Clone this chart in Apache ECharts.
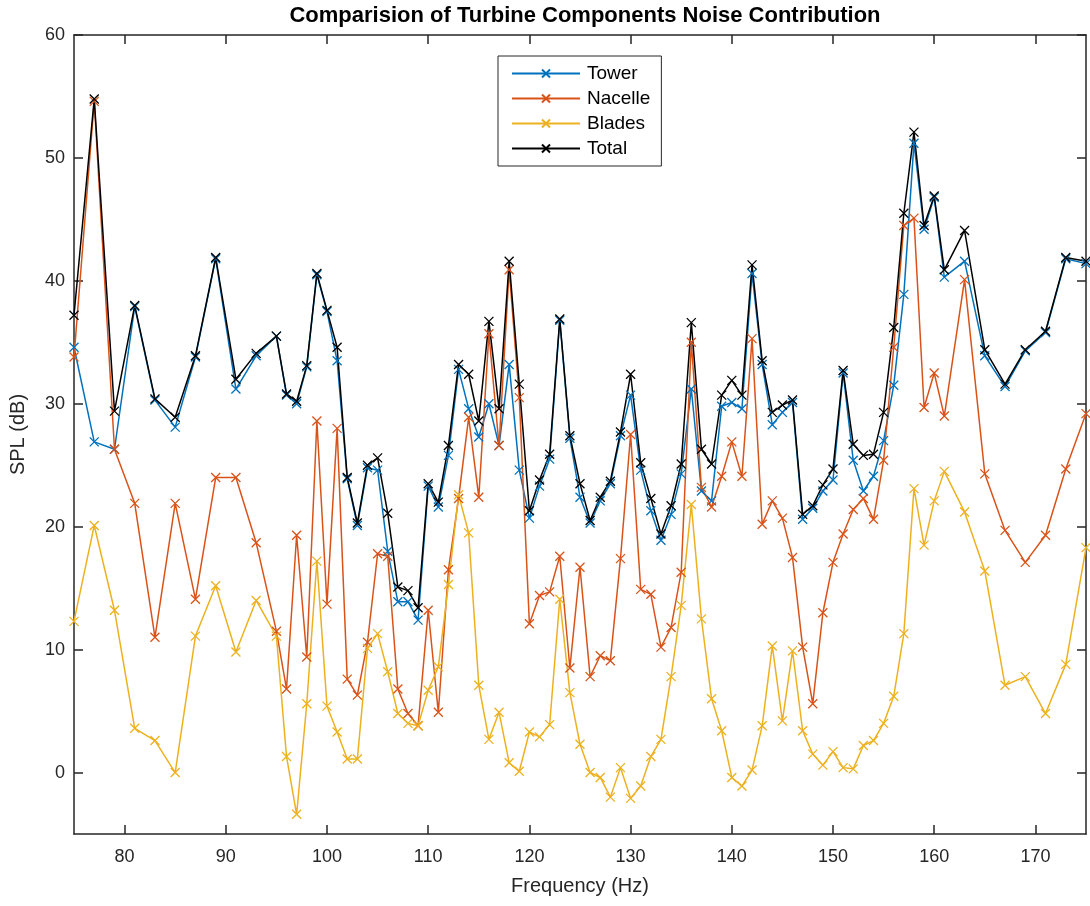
<!DOCTYPE html>
<html>
<head>
<meta charset="utf-8">
<script src="https://cdn.jsdelivr.net/npm/echarts@6/dist/echarts.min.js"></script>
<style>
  html, body { margin: 0; padding: 0; background: #fff; }
  #chart { width: 1090px; height: 906px; }
</style>
</head>
<body>
<div id="chart"></div>
<script>
// frequencies (Hz): odd steps at both ends, 1 Hz steps in the middle
var freqs = [75, 77, 79, 81, 83, 85, 87, 89, 91, 93, 95,
    96, 97, 98, 99, 100, 101, 102, 103, 104, 105, 106, 107, 108, 109, 110,
    111, 112, 113, 114, 115, 116, 117, 118, 119, 120, 121, 122, 123, 124, 125,
    126, 127, 128, 129, 130, 131, 132, 133, 134, 135, 136, 137, 138, 139, 140,
    141, 142, 143, 144, 145, 146, 147, 148, 149, 150, 151, 152, 153, 154, 155,
    156, 157, 158, 159, 160, 161,
    163, 165, 167, 169, 171, 173, 175];

var tower = [34.6, 26.9, 26.3, 37.9, 30.3, 28.1, 33.8, 41.8, 31.2, 33.9, 35.5,
    30.7, 30.0, 33.0, 40.5, 37.5, 33.5, 23.9, 20.1, 24.8, 24.6, 18.0, 13.9, 13.9, 12.4, 23.3,
    21.6, 25.8, 32.8, 29.6, 27.3, 30.0, 26.6, 33.2, 24.6, 20.7, 23.3, 25.5, 36.8, 27.2, 22.4,
    20.3, 22.1, 23.5, 27.4, 30.7, 24.6, 21.3, 18.9, 21.0, 24.3, 31.2, 22.9, 22.1, 29.8, 30.1,
    29.6, 40.6, 33.2, 28.3, 29.3, 30.1, 20.6, 21.5, 22.9, 23.8, 32.5, 25.4, 22.9, 24.1, 27.0,
    31.5, 38.9, 51.2, 44.2, 46.8, 40.3,
    41.6, 33.9, 31.4, 34.3, 35.8, 41.8, 41.4];

var nacelle = [33.8, 54.6, 26.3, 21.9, 11.0, 21.9, 14.1, 24.0, 24.0, 18.7, 11.5,
    6.8, 19.3, 9.4, 28.6, 13.7, 28.0, 7.6, 6.3, 10.6, 17.8, 17.6, 6.8, 4.8, 3.8, 13.2,
    4.9, 16.5, 22.3, 28.9, 22.4, 35.7, 26.6, 40.9, 30.5, 12.1, 14.4, 14.7, 17.6, 8.5, 16.7,
    7.8, 9.5, 9.1, 17.4, 27.5, 14.9, 14.5, 10.2, 11.8, 16.3, 35.0, 23.2, 21.6, 24.1, 26.9,
    24.1, 35.3, 20.2, 22.1, 20.7, 17.5, 10.2, 5.6, 13.0, 17.1, 19.4, 21.4, 22.3, 20.6, 25.4,
    34.6, 44.5, 45.1, 29.7, 32.5, 29.0,
    40.1, 24.3, 19.7, 17.1, 19.3, 24.7, 29.2];

var blades = [12.3, 20.1, 13.2, 3.6, 2.6, 0.0, 11.1, 15.2, 9.8, 14.0, 11.1,
    1.3, -3.4, 5.6, 17.2, 5.4, 3.3, 1.1, 1.1, 10.1, 11.3, 8.2, 4.8, 4.0, 3.8, 6.7,
    8.6, 15.3, 22.6, 19.5, 7.1, 2.7, 4.9, 0.8, 0.1, 3.3, 2.9, 3.9, 14.1, 6.5, 2.3,
    0.0, -0.4, -2.0, 0.4, -2.1, -1.1, 1.3, 2.7, 7.8, 13.6, 21.8, 12.5, 6.0, 3.4, -0.4,
    -1.1, 0.2, 3.8, 10.3, 4.2, 9.9, 3.4, 1.5, 0.6, 1.7, 0.4, 0.3, 2.2, 2.6, 4.0,
    6.2, 11.3, 23.1, 18.5, 22.1, 24.5,
    21.2, 16.4, 7.1, 7.8, 4.8, 8.8, 18.3];

var total = [37.2, 54.8, 29.4, 38.0, 30.4, 28.9, 33.9, 41.9, 32.0, 34.1, 35.5,
    30.8, 30.2, 33.1, 40.6, 37.6, 34.6, 24.0, 20.3, 25.0, 25.6, 21.1, 15.1, 14.8, 13.4, 23.5,
    22.0, 26.6, 33.2, 32.4, 28.6, 36.7, 29.6, 41.6, 31.6, 21.3, 23.8, 25.9, 36.9, 27.4, 23.5,
    20.5, 22.4, 23.7, 27.7, 32.4, 25.2, 22.3, 19.4, 21.7, 25.1, 36.6, 26.3, 25.1, 30.7, 31.9,
    30.7, 41.3, 33.5, 29.3, 29.9, 30.3, 21.0, 21.7, 23.4, 24.7, 32.7, 26.7, 25.8, 25.9, 29.3,
    36.2, 45.5, 52.1, 44.5, 46.9, 40.9,
    44.1, 34.4, 31.6, 34.4, 35.9, 41.9, 41.6];

var seriesNames = ['Tower', 'Nacelle', 'Blades', 'Total'];
var xTicks = [80, 90, 100, 110, 120, 130, 140, 150, 160, 170];
var yTicks = [0, 10, 20, 30, 40, 50, 60];

var colors = ['#0072BD', '#D95319', '#EDB120', '#000000'];
var axisColor = '#262626';
var xMark = 'path://M0,0L10,10M10,0L0,10';

function pairs(values) {
    return freqs.map(function(f, i) { return [f, values[i]]; });
}

function makeSeries(name, values, color) {
    return {
        name: name,
        type: 'line',
        data: pairs(values),
        symbol: xMark,
        symbolSize: 9,
        showAllSymbol: true,
        lineStyle: { color: color, width: 1.5 },
        itemStyle: { color: color, borderColor: color, borderWidth: 1.3 },
        emphasis: { disabled: true },
        animation: false
    };
}

function frameAxis(pos, min, max, ticks) {
    return {
        type: 'value',
        min: min,
        max: max,
        position: pos,
        axisLine: { show: true, onZero: false, lineStyle: { color: axisColor, width: 1.5 } },
        axisTick: { show: true, inside: true, length: 9, customValues: ticks,
            lineStyle: { color: axisColor, width: 1.5 } },
        axisLabel: { show: false },
        splitLine: { show: false }
    };
}

var chart = echarts.init(document.getElementById('chart'));

var font = 'Liberation Sans, Arial, Helvetica, sans-serif';

var xMain = frameAxis('bottom', 75, 175, xTicks);
xMain.name = 'Frequency (Hz)';
xMain.nameLocation = 'middle';
xMain.nameGap = 42;
xMain.nameTextStyle = { fontFamily: font, fontSize: 20, color: axisColor };
xMain.axisLabel = { customValues: xTicks, fontFamily: font, fontSize: 18, color: axisColor, margin: 14 };

var yMain = frameAxis('left', -5, 60, yTicks);
yMain.name = 'SPL (dB)';
yMain.nameLocation = 'middle';
yMain.nameGap = 46;
yMain.nameTextStyle = { fontFamily: font, fontSize: 20, color: axisColor };
yMain.axisLabel = { customValues: yTicks, fontFamily: font, fontSize: 18, color: axisColor, margin: 9 };

var option = {
    backgroundColor: '#fff',
    animation: false,
    title: {
        text: 'Comparision of Turbine Components Noise Contribution',
        left: 580,
        textAlign: 'center',
        top: 0,
        textStyle: { fontFamily: font, fontSize: 22, fontWeight: 'bold', color: '#000' }
    },
    legend: {
        data: seriesNames,
        orient: 'vertical',
        left: 498,
        top: 56,
        padding: [8, 11, 8, 13],
        itemWidth: 68,
        itemHeight: 10,
        itemGap: 6,
        backgroundColor: '#fff',
        borderColor: axisColor,
        borderWidth: 1,
        borderRadius: 0,
        textStyle: { fontFamily: font, fontSize: 19, color: '#000', padding: [0, 0, 0, 2] }
    },
    grid: { left: 73, right: 4, top: 35, bottom: 72, containLabel: false },
    xAxis: [xMain, frameAxis('top', 75, 175, xTicks)],
    yAxis: [yMain, frameAxis('right', -5, 60, yTicks)],
    series: [
        makeSeries(seriesNames[0], tower, colors[0]),
        makeSeries(seriesNames[1], nacelle, colors[1]),
        makeSeries(seriesNames[2], blades, colors[2]),
        makeSeries(seriesNames[3], total, colors[3])
    ]
};

chart.setOption(option);
</script>
</body>
</html>
